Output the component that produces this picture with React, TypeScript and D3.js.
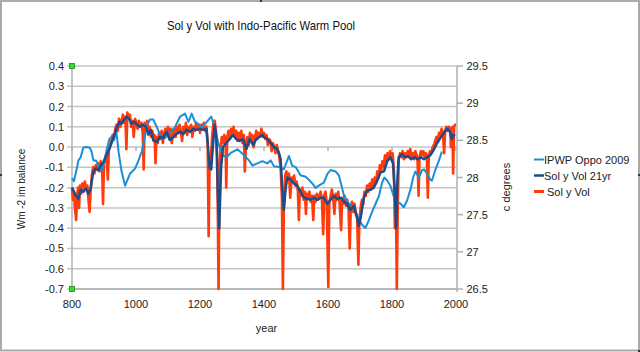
import { scaleLinear, line } from "d3";

// IPWP Oppo 2009 (year, deg C) - right axis
const ipwp: [number, number][] = [
  [800, 27.99], [806, 27.95], [815, 28.12], [820, 28.23], [827, 28.27], [835, 28.4], [844, 28.41],
  [856, 28.4], [861, 28.35], [867, 28.23], [875, 28.23], [882, 28.16], [888, 28.12], [893, 28.1],
  [901, 28.2], [908, 28.37], [917, 28.52], [924, 28.55], [931, 28.5], [938, 28.64], [946, 28.33],
  [955, 28.08], [966, 27.89], [981, 28.05], [997, 28.12], [1007, 28.22], [1018, 28.35], [1028, 28.55],
  [1035, 28.71], [1044, 28.78], [1054, 28.78], [1065, 28.68], [1075, 28.57], [1091, 28.53], [1106, 28.6],
  [1122, 28.68], [1138, 28.82], [1153, 28.86], [1164, 28.75], [1174, 28.86], [1184, 28.75], [1195, 28.72],
  [1204, 28.68], [1220, 28.74], [1235, 28.82], [1246, 28.68], [1252, 28.55], [1261, 28.41], [1272, 28.3],
  [1282, 28.27], [1296, 28.33], [1317, 28.38], [1338, 28.3], [1353, 28.23], [1364, 28.16], [1379, 28.19],
  [1395, 28.22], [1410, 28.19], [1421, 28.23], [1431, 28.15], [1447, 28.14], [1462, 28.11], [1478, 28.29],
  [1488, 28.16], [1499, 28.14], [1514, 28.03], [1530, 28.01], [1540, 27.97], [1551, 27.92], [1561, 27.86],
  [1571, 27.89], [1587, 27.93], [1598, 28.05], [1608, 28.1], [1624, 28.08], [1634, 28.03], [1644, 27.86],
  [1650, 27.75], [1665, 27.65], [1681, 27.58], [1696, 27.44], [1707, 27.36], [1717, 27.32], [1728, 27.43],
  [1738, 27.54], [1749, 27.65], [1759, 27.75], [1769, 27.93], [1776, 28.0], [1785, 27.96], [1795, 27.89],
  [1806, 27.74], [1816, 27.67], [1826, 27.65], [1837, 27.6], [1847, 27.69], [1858, 27.84], [1866, 28.0],
  [1873, 28.08], [1884, 28.0], [1894, 28.1], [1900, 28.11], [1910, 28.05], [1920, 27.97], [1925, 27.96],
  [1936, 28.11], [1946, 28.22], [1956, 28.35],
];

// Sol y Vol 21yr (year, W m-2)
const solVol21: [number, number][] = [
  [800, -0.2], [804, -0.213], [812, -0.24], [820, -0.255], [827, -0.21], [835, -0.22], [844, -0.205],
  [851, -0.23], [858, -0.205], [867, -0.12], [875, -0.105], [882, -0.115], [890, -0.09], [898, -0.075],
  [908, -0.04], [919, 0.0], [929, 0.045], [940, 0.095], [948, 0.125], [955, 0.115], [963, 0.135],
  [971, 0.15], [978, 0.14], [986, 0.115], [994, 0.125], [1004, 0.11], [1012, 0.1], [1021, 0.11],
  [1031, 0.1], [1039, 0.065], [1046, 0.085], [1054, 0.035], [1065, 0.025], [1075, 0.05], [1085, 0.045],
  [1096, 0.075], [1106, 0.035], [1117, 0.05], [1127, 0.065], [1138, 0.075], [1148, 0.065], [1158, 0.085],
  [1169, 0.075], [1179, 0.09], [1190, 0.085], [1200, 0.09], [1209, 0.085], [1220, 0.09], [1225, 0.0],
  [1230, -0.1], [1235, -0.11], [1240, 0.0], [1246, 0.11], [1251, 0.05], [1256, -0.25], [1260, -0.4],
  [1266, -0.1], [1272, 0.0], [1282, 0.02], [1293, 0.04], [1303, 0.06], [1313, 0.04], [1324, 0.03],
  [1334, 0.04], [1345, -0.01], [1355, 0.04], [1366, 0.01], [1376, 0.04], [1386, 0.05], [1395, 0.06],
  [1400, 0.05], [1410, 0.04], [1421, 0.02], [1431, 0.0], [1442, -0.01], [1447, -0.03], [1452, -0.06],
  [1457, -0.2], [1462, -0.31], [1468, -0.2], [1473, -0.15], [1483, -0.16], [1494, -0.18], [1504, -0.19],
  [1514, -0.22], [1525, -0.25], [1535, -0.255], [1546, -0.26], [1556, -0.25], [1566, -0.26], [1577, -0.25],
  [1587, -0.25], [1598, -0.28], [1608, -0.26], [1619, -0.24], [1629, -0.255], [1640, -0.25], [1650, -0.27],
  [1660, -0.28], [1670, -0.31], [1681, -0.29], [1691, -0.345], [1696, -0.39], [1702, -0.35], [1712, -0.25],
  [1722, -0.215], [1733, -0.21], [1743, -0.2], [1754, -0.165], [1764, -0.125], [1775, -0.12], [1785, -0.07],
  [1795, -0.05], [1803, -0.08], [1808, -0.2], [1813, -0.4], [1817, -0.15], [1821, -0.05], [1831, -0.035],
  [1840, -0.05], [1850, -0.045], [1860, -0.06], [1870, -0.05], [1880, -0.06], [1890, -0.05], [1900, -0.06],
  [1910, -0.05], [1920, -0.04], [1930, -0.015], [1941, 0.02], [1951, 0.045], [1962, 0.07], [1972, 0.09],
  [1980, 0.08], [1987, 0.04], [1992, 0.06], [1997, 0.055],
];

// Sol y Vol annual (year, W m-2)
const solVol: [number, number][] = [
  [800, -0.2], [803, -0.26], [806, -0.22], [809, -0.3], [813, -0.36], [816, -0.24], [819, -0.2],
  [822, -0.3], [825, -0.19], [829, -0.23], [832, -0.18], [836, -0.22], [840, -0.17], [844, -0.21],
  [848, -0.19], [852, -0.27], [855, -0.32], [858, -0.22], [862, -0.14], [866, -0.1], [870, -0.13],
  [874, -0.09], [878, -0.11], [882, -0.08], [886, -0.12], [890, -0.07], [894, -0.1], [897, -0.28],
  [900, -0.08], [904, -0.05], [908, -0.03], [912, -0.16], [915, -0.02], [919, 0.01], [923, 0.03],
  [927, 0.06], [931, 0.04], [935, 0.09], [939, 0.11], [943, 0.08], [947, 0.14], [951, 0.1],
  [955, 0.13], [959, 0.16], [963, 0.12], [967, 0.15], [970, -0.01], [973, 0.17], [977, 0.14],
  [981, 0.16], [985, 0.1], [989, 0.13], [993, 0.05], [997, 0.14], [1001, 0.12], [1005, 0.09],
  [1009, 0.13], [1013, 0.1], [1017, 0.12], [1021, 0.07], [1024, -0.11], [1027, 0.12], [1031, 0.1],
  [1035, 0.13], [1039, 0.06], [1043, 0.1], [1047, 0.05], [1051, 0.08], [1055, 0.03], [1058, 0.06],
  [1061, -0.08], [1064, 0.05], [1068, 0.02], [1072, 0.07], [1076, 0.04], [1080, 0.08], [1084, 0.02],
  [1088, 0.07], [1092, 0.09], [1096, 0.06], [1100, 0.1], [1104, 0.04], [1108, 0.09], [1112, 0.02],
  [1116, 0.07], [1120, 0.09], [1124, 0.05], [1128, 0.1], [1132, 0.07], [1136, 0.11], [1140, 0.08],
  [1144, 0.03], [1148, 0.1], [1152, 0.07], [1156, 0.12], [1160, 0.06], [1164, 0.1], [1168, 0.08],
  [1172, 0.11], [1176, 0.05], [1180, 0.1], [1184, 0.08], [1188, 0.12], [1192, 0.09], [1196, 0.11],
  [1200, 0.07], [1204, 0.11], [1208, 0.09], [1212, 0.12], [1216, 0.08], [1220, 0.1], [1224, 0.02],
  [1227, -0.44], [1230, -0.08], [1234, -0.05], [1238, 0.05], [1242, 0.12], [1246, 0.13], [1250, 0.08],
  [1254, -0.05], [1258, -0.7], [1261, -0.15], [1264, -0.02], [1268, 0.05], [1272, 0.02], [1276, 0.06],
  [1280, 0.03], [1282, -0.2], [1285, 0.05], [1289, 0.08], [1293, 0.04], [1297, 0.09], [1301, 0.06],
  [1305, 0.1], [1309, 0.05], [1313, 0.08], [1317, 0.03], [1321, 0.07], [1325, 0.04], [1329, 0.08],
  [1333, 0.02], [1337, 0.06], [1340, -0.12], [1344, 0.02], [1348, 0.05], [1352, 0.01], [1356, 0.07],
  [1360, 0.03], [1364, 0.06], [1368, 0.0], [1372, 0.05], [1376, 0.08], [1380, 0.04], [1384, 0.07],
  [1388, 0.06], [1392, 0.09], [1396, 0.05], [1400, 0.07], [1404, 0.04], [1408, 0.06], [1412, 0.01],
  [1416, 0.04], [1420, 0.03], [1424, -0.02], [1428, 0.02], [1432, 0.0], [1436, -0.03], [1440, 0.01],
  [1444, -0.02], [1448, -0.05], [1452, -0.1], [1456, -0.25], [1459, -0.7], [1462, -0.3], [1466, -0.14],
  [1470, -0.12], [1474, -0.16], [1478, -0.13], [1482, -0.25], [1486, -0.15], [1490, -0.17], [1494, -0.14],
  [1498, -0.19], [1502, -0.17], [1506, -0.22], [1509, -0.36], [1512, -0.21], [1516, -0.24], [1520, -0.2],
  [1524, -0.26], [1528, -0.22], [1531, -0.33], [1534, -0.23], [1538, -0.25], [1542, -0.22], [1546, -0.27],
  [1550, -0.24], [1554, -0.36], [1557, -0.24], [1561, -0.27], [1565, -0.23], [1569, -0.26], [1573, -0.24],
  [1577, -0.22], [1581, -0.26], [1585, -0.43], [1588, -0.24], [1592, -0.22], [1596, -0.27], [1601, -0.69],
  [1604, -0.28], [1608, -0.24], [1612, -0.21], [1616, -0.25], [1620, -0.33], [1624, -0.23], [1628, -0.26],
  [1632, -0.22], [1636, -0.27], [1641, -0.41], [1644, -0.25], [1648, -0.28], [1652, -0.24], [1656, -0.29],
  [1660, -0.26], [1664, -0.3], [1668, -0.5], [1671, -0.3], [1675, -0.27], [1679, -0.32], [1683, -0.28],
  [1687, -0.33], [1691, -0.35], [1695, -0.58], [1698, -0.36], [1702, -0.3], [1706, -0.26], [1710, -0.28],
  [1714, -0.22], [1718, -0.24], [1722, -0.19], [1726, -0.22], [1730, -0.18], [1734, -0.21], [1738, -0.16],
  [1742, -0.2], [1746, -0.15], [1750, -0.18], [1754, -0.12], [1758, -0.15], [1762, -0.09], [1766, -0.12],
  [1770, -0.07], [1774, -0.1], [1778, -0.04], [1782, -0.07], [1786, -0.03], [1790, -0.06], [1794, -0.02],
  [1798, -0.05], [1802, -0.03], [1806, -0.12], [1809, -0.4], [1812, -0.2], [1815, -0.7], [1818, -0.3],
  [1821, -0.06], [1825, -0.03], [1829, -0.05], [1833, -0.02], [1837, -0.06], [1841, -0.03], [1845, -0.05],
  [1849, -0.02], [1853, -0.04], [1857, -0.01], [1861, -0.05], [1865, -0.03], [1869, -0.06], [1873, -0.02],
  [1877, -0.04], [1880, -0.07], [1883, -0.24], [1886, -0.05], [1890, -0.02], [1894, -0.04], [1898, -0.02],
  [1902, -0.05], [1906, -0.03], [1909, -0.06], [1912, -0.25], [1915, -0.04], [1919, -0.02], [1923, -0.03],
  [1927, 0.0], [1931, 0.01], [1935, 0.03], [1939, 0.05], [1943, 0.03], [1947, 0.07], [1951, 0.06],
  [1955, 0.09], [1959, 0.07], [1963, -0.03], [1966, 0.08], [1970, 0.1], [1974, 0.08], [1978, 0.1],
  [1982, 0.09], [1984, 0.0], [1987, 0.08], [1989, 0.1], [1991, -0.13], [1994, 0.1], [1997, 0.11],
  [2000, 0.11],
];

const leftTicks = [-0.7, -0.6, -0.5, -0.4, -0.3, -0.2, -0.1, 0.0, 0.1, 0.2, 0.3, 0.4];
const rightTicks = [26.5, 27, 27.5, 28, 28.5, 29, 29.5];
const yearTicks = [800, 1000, 1200, 1400, 1600, 1800, 2000];

const legendItems = [
  { label: "IPWP Oppo 2009", color: "#1a8fd8", width: 2, indent: 0 },
  { label: "Sol y Vol 21yr", color: "#1c4c8c", width: 2.5, indent: 0 },
  { label: "Sol y Vol", color: "#ff3b0c", width: 3, indent: 3 },
];

const FONT = "'Liberation Sans', Arial, sans-serif";
const TEXT = "#222";

export default function App() {
  const x = scaleLinear().domain([800, 2000]).range([72, 456]);
  const yL = scaleLinear().domain([-0.7, 0.4]).range([289, 66]);
  const yR = scaleLinear().domain([26.5, 29.5]).range([289, 66]);

  const lineL = line<[number, number]>()
    .x((d) => x(d[0]))
    .y((d) => yL(d[1]));
  const lineR = line<[number, number]>()
    .x((d) => x(d[0]))
    .y((d) => yR(d[1]));

  return (
    <svg
      width={640}
      height={352}
      style={{ position: "absolute", left: 0, top: 0, background: "#fff" }}
      fontFamily={FONT}
    >
      {/* frame */}
      <rect x={1} y={1} width={638} height={349.5} fill="#fff" stroke="#ababab" strokeWidth={2} />

      {/* title */}
      <text x={261} y={30} textAnchor="middle" fontSize={13} fill="#111" textLength={188} lengthAdjust="spacingAndGlyphs">
        Sol y Vol with Indo-Pacific Warm Pool
      </text>

      {/* grid + left axis */}
      {leftTicks.map((t) => (
        <g key={t}>
          <line x1={67} x2={457} y1={yL(t)} y2={yL(t)} stroke="#c4c4c4" strokeWidth={1.5} />
          <text x={64} y={yL(t) + 4} textAnchor="end" fontSize={11} fill={TEXT}>
            {t.toFixed(1)}
          </text>
        </g>
      ))}
      <line x1={72} x2={72} y1={66} y2={289} stroke="#b0b0b0" strokeWidth={1.5} />
      <line x1={457} x2={457} y1={66} y2={292} stroke="#b0b0b0" strokeWidth={1.5} />
      <line x1={72} x2={457} y1={289} y2={289} stroke="#b0b0b0" strokeWidth={1.5} />

      {/* right axis */}
      {rightTicks.map((t) => (
        <g key={t}>
          <line x1={457} x2={463} y1={yR(t)} y2={yR(t)} stroke="#b0b0b0" strokeWidth={1.5} />
          <text x={466.5} y={yR(t) + 4} fontSize={11} fill={TEXT}>
            {t}
          </text>
        </g>
      ))}

      {/* x ticks on zero line and labels */}
      {yearTicks.map((t) => (
        <g key={t}>
          <line x1={x(t)} x2={x(t)} y1={yL(0)} y2={yL(0) + 4} stroke="#b0b0b0" strokeWidth={1.5} />
          <text x={x(t)} y={308} textAnchor="middle" fontSize={11} fill={TEXT}>
            {t}
          </text>
        </g>
      ))}

      {/* series */}
      <path d={lineL(solVol) ?? ""} fill="none" stroke="#ff3b0c" strokeWidth={2.6} strokeLinejoin="round" />
      <path d={lineR(ipwp) ?? ""} fill="none" stroke="#1a8fd8" strokeWidth={2} strokeLinejoin="round" />
      <path d={lineL(solVol21) ?? ""} fill="none" stroke="#1c4c8c" strokeWidth={2.5} strokeLinejoin="round" />

      {/* green selection markers */}
      {[0.4, -0.7].map((v) => (
        <rect key={v} x={x(800) - 2.5} y={yL(v) - 2.5} width={5} height={5} fill="#2ee02e" stroke="#1b8a1b" strokeWidth={0.8} />
      ))}

      {/* axis titles */}
      <text transform="translate(25,189) rotate(-90)" textAnchor="middle" fontSize={10} fill={TEXT}>
        Wm -2 im balance
      </text>
      <text transform="translate(510,187) rotate(-90)" textAnchor="middle" fontSize={11} fill={TEXT}>
        c degrees
      </text>
      <text x={266.5} y={332} textAnchor="middle" fontSize={11} fill={TEXT}>
        year
      </text>

      {/* legend */}
      {legendItems.map((item, i) => (
        <g key={item.label} transform={`translate(534,${159.5 + i * 16})`}>
          <line x1={0} x2={10} y1={0} y2={0} stroke={item.color} strokeWidth={item.width} />
          <text x={10 + item.indent} y={4} fontSize={11} fill={TEXT}>
            {item.label}
          </text>
        </g>
      ))}

      {/* selection handles */}
      {[[260, 0], [0, 174], [638, 174], [638, 350]].map(([hx, hy], i) => (
        <rect key={i} x={hx} y={hy} width={2} height={2} fill="#333" />
      ))}
    </svg>
  );
}
